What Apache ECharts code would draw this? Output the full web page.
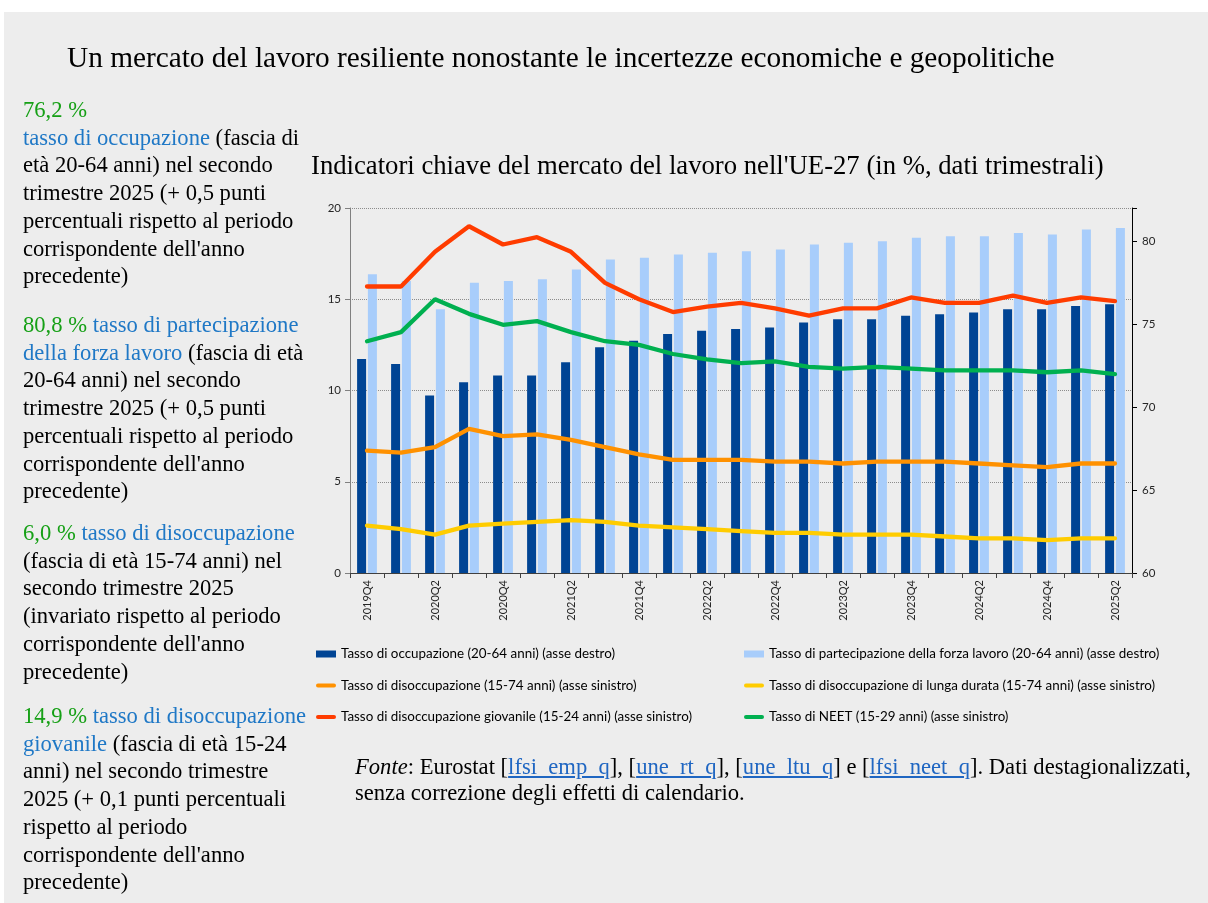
<!DOCTYPE html>
<html>
<head>
<meta charset="utf-8">
<script src="https://cdn.jsdelivr.net/npm/echarts@6/dist/echarts.min.js"></script>
<style>
  html, body { margin: 0; padding: 0; background: #ffffff; }
  #panel { position: absolute; left: 4px; top: 12px; width: 1204px; height: 891px; background: #ededed; }
  #myChart { position: absolute; left: 0; top: 0; width: 1208px; height: 903px; }
  .txt { position: absolute; font-family: "Liberation Serif", "Times New Roman", serif; color: #000; }
  #mainTitle { left: 67px; top: 41px; font-size: 29.3px; line-height: 32px; white-space: nowrap; }
  .side { left: 23px; font-size: 22.6px; line-height: 27.7px; white-space: nowrap; }
  .num { color: #16a016; }
  .kw { color: #1f78c6; }
  #fonte { left: 355px; top: 754px; font-size: 22.6px; line-height: 26px; white-space: nowrap; }
  #fonte a { color: #1f66c2; text-decoration: underline; }
</style>
</head>
<body>
<div id="panel"></div>
<div id="myChart"></div>

<div id="mainTitle" class="txt">Un mercato del lavoro resiliente nonostante le incertezze economiche e geopolitiche</div>

<div class="txt side" style="top:96px">
  <span class="num">76,2 %</span><br>
  <span class="kw">tasso di occupazione</span> (fascia di<br>
  età 20-64 anni) nel secondo<br>
  trimestre 2025 (+ 0,5 punti<br>
  percentuali rispetto al periodo<br>
  corrispondente dell'anno<br>
  precedente)
</div>
<div class="txt side" style="top:311px">
  <span class="num">80,8 %</span> <span class="kw">tasso di partecipazione</span><br>
  <span class="kw">della forza lavoro</span> (fascia di età<br>
  20-64 anni) nel secondo<br>
  trimestre 2025 (+ 0,5 punti<br>
  percentuali rispetto al periodo<br>
  corrispondente dell'anno<br>
  precedente)
</div>
<div class="txt side" style="top:519px">
  <span class="num">6,0 %</span> <span class="kw">tasso di disoccupazione</span><br>
  (fascia di età 15-74 anni) nel<br>
  secondo trimestre 2025<br>
  (invariato rispetto al periodo<br>
  corrispondente dell'anno<br>
  precedente)
</div>
<div class="txt side" style="top:702px">
  <span class="num">14,9 %</span> <span class="kw">tasso di disoccupazione</span><br>
  <span class="kw">giovanile</span> (fascia di età 15-24<br>
  anni) nel secondo trimestre<br>
  2025 (+ 0,1 punti percentuali<br>
  rispetto al periodo<br>
  corrispondente dell'anno<br>
  precedente)
</div>

<div id="fonte" class="txt">
  <i>Fonte</i>: Eurostat [<a>lfsi_emp_q</a>], [<a>une_rt_q</a>], [<a>une_ltu_q</a>] e [<a>lfsi_neet_q</a>]. Dati destagionalizzati,<br>
  senza correzione degli effetti di calendario.
</div>

<script>
  // trimestri
  var quarters = ['2019Q4', '2020Q1', '2020Q2', '2020Q3', '2020Q4', '2021Q1', '2021Q2', '2021Q3',
    '2021Q4', '2022Q1', '2022Q2', '2022Q3', '2022Q4', '2023Q1', '2023Q2', '2023Q3', '2023Q4',
    '2024Q1', '2024Q2', '2024Q3', '2024Q4', '2025Q1', '2025Q2']

  // asse destro
  var occupazione = [72.9, 72.6, 70.7, 71.5, 71.9, 71.9, 72.7, 73.6, 74.0, 74.4, 74.6, 74.7,
    74.8, 75.1, 75.3, 75.3, 75.5, 75.6, 75.7, 75.9, 75.9, 76.1, 76.2]
  var partecipazione = [78.0, 77.6, 75.9, 77.5, 77.6, 77.7, 78.3, 78.9, 79.0, 79.2, 79.3, 79.4,
    79.5, 79.8, 79.9, 80.0, 80.2, 80.3, 80.3, 80.5, 80.4, 80.7, 80.8]

  // asse sinistro
  var disoccupazione = [6.7, 6.6, 6.9, 7.9, 7.5, 7.6, 7.3, 6.9, 6.5, 6.2, 6.2, 6.2,
    6.1, 6.1, 6.0, 6.1, 6.1, 6.1, 6.0, 5.9, 5.8, 6.0, 6.0]
  var lungaDurata = [2.6, 2.4, 2.1, 2.6, 2.7, 2.8, 2.9, 2.8, 2.6, 2.5, 2.4, 2.3,
    2.2, 2.2, 2.1, 2.1, 2.1, 2.0, 1.9, 1.9, 1.8, 1.9, 1.9]
  var giovanile = [15.7, 15.7, 17.6, 19.0, 18.0, 18.4, 17.6, 15.9, 15.0, 14.3, 14.6, 14.8,
    14.5, 14.1, 14.5, 14.5, 15.1, 14.8, 14.8, 15.2, 14.8, 15.1, 14.9]
  var neet = [12.7, 13.2, 15.0, 14.2, 13.6, 13.8, 13.2, 12.7, 12.5, 12.0, 11.7, 11.5,
    11.6, 11.3, 11.2, 11.3, 11.2, 11.1, 11.1, 11.1, 11.0, 11.1, 10.9]

  var leftTicks = [0, 5, 10, 15, 20]
  var rightTicks = [60, 65, 70, 75, 80]

  var names = [
    'Tasso di occupazione (20-64 anni) (asse destro)',
    'Tasso di partecipazione della forza lavoro (20-64 anni) (asse destro)',
    'Tasso di disoccupazione (15-74 anni) (asse sinistro)',
    'Tasso di disoccupazione di lunga durata (15-74 anni) (asse sinistro)',
    'Tasso di disoccupazione giovanile (15-24 anni) (asse sinistro)',
    'Tasso di NEET (15-29 anni) (asse sinistro)'
  ]
  var colors = ['#004494', '#a8cdfb', '#ff9100', '#ffcc00', '#ff3c00', '#00b050']

  var font = 'Lato, "Open Sans", sans-serif'
  var legendText = { fontFamily: font, fontSize: 13.4, color: '#000', lineHeight: 14 }
  // icona linea spessa con estremi arrotondati
  var lineIcon = 'path://M2,0 L18,0 A2,2 0 0 1 18,4 L2,4 A2,2 0 0 1 2,0 Z'

  function lineSeries(i, data) {
    return {
      name: names[i],
      type: 'line',
      yAxisIndex: 0,
      symbol: 'none',
      z: 5,
      lineStyle: { width: 4.3, color: colors[i], cap: 'round' },
      itemStyle: { color: colors[i] },
      data: data
    }
  }

  var myChart = echarts.init(document.getElementById('myChart'))
  myChart.setOption({
    animation: false,
    title: {
      text: "Indicatori chiave del mercato del lavoro nell'UE-27 (in %, dati trimestrali)",
      left: 306,
      top: 148,
      textStyle: { fontFamily: '"Liberation Serif", serif', fontSize: 26.7, fontWeight: 'normal', color: '#000' }
    },
    legend: [{
      orient: 'vertical',
      left: 311,
      top: 642,
      itemWidth: 20,
      itemHeight: 7,
      itemGap: 17.5,
      textStyle: legendText,
      data: [
        { name: names[0], icon: 'rect' },
        { name: names[2], icon: lineIcon },
        { name: names[4], icon: lineIcon }
      ]
    }, {
      orient: 'vertical',
      left: 739,
      top: 642,
      itemWidth: 20,
      itemHeight: 7,
      itemGap: 17.5,
      textStyle: legendText,
      data: [
        { name: names[1], icon: 'rect' },
        { name: names[3], icon: lineIcon },
        { name: names[5], icon: lineIcon }
      ]
    }],
    grid: { left: 350, right: 76, top: 208, bottom: 330 },
    xAxis: {
      type: 'category',
      data: quarters,
      boundaryGap: true,
      axisLine: { lineStyle: { color: '#404040', width: 1 } },
      axisTick: { show: true, interval: 0, length: 5, lineStyle: { color: '#404040' } },
      axisLabel: {
        interval: 1,
        rotate: 90,
        margin: 7,
        fontFamily: font,
        fontSize: 11,
        color: '#262626'
      }
    },
    yAxis: [{
      type: 'value',
      position: 'left',
      min: leftTicks[0],
      max: leftTicks[leftTicks.length - 1],
      interval: 5,
      axisLine: { show: true, lineStyle: { color: '#808080' } },
      axisTick: { show: true, length: 5, lineStyle: { color: '#808080' } },
      axisLabel: { fontFamily: font, fontSize: 11.5, color: '#262626', margin: 9 },
      splitLine: { show: true, lineStyle: { type: 'dotted', color: '#8c8c8c', width: 1 } }
    }, {
      type: 'value',
      position: 'right',
      min: rightTicks[0],
      max: 82,
      interval: 5,
      axisLine: { show: true, lineStyle: { color: '#000' } },
      axisTick: { show: true, length: 5, lineStyle: { color: '#000' } },
      axisLabel: {
        fontFamily: font, fontSize: 11.5, color: '#262626', margin: 10,
        formatter: function (v) { return rightTicks.indexOf(v) >= 0 ? v : '' }
      },
      splitLine: { show: false }
    }],
    series: [{
      name: names[0],
      type: 'bar',
      yAxisIndex: 1,
      barWidth: 9,
      barGap: '20%',
      itemStyle: { color: colors[0] },
      data: occupazione
    }, {
      name: names[1],
      type: 'bar',
      yAxisIndex: 1,
      barWidth: 9,
      barGap: '20%',
      itemStyle: { color: colors[1] },
      data: partecipazione
    },
      lineSeries(2, disoccupazione),
      lineSeries(3, lungaDurata),
      lineSeries(4, giovanile),
      lineSeries(5, neet)
    ]
  })
</script>
</body>
</html>
